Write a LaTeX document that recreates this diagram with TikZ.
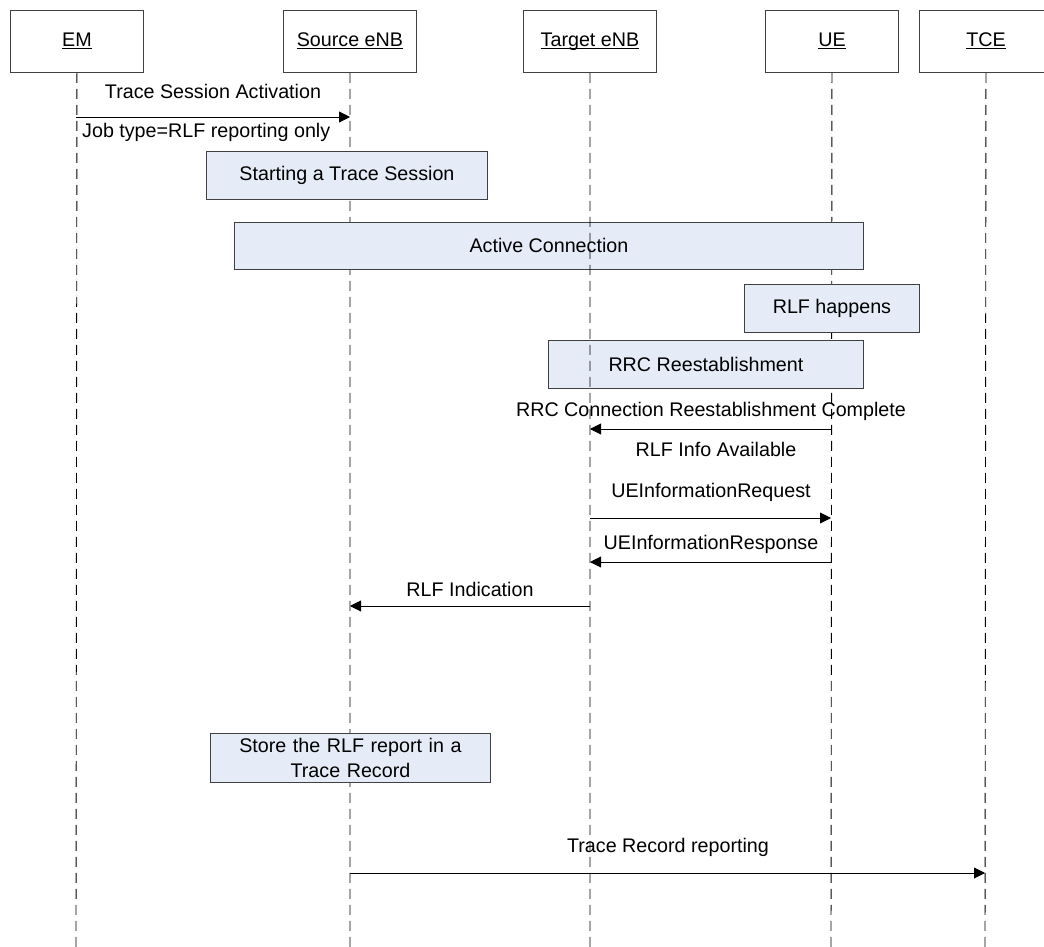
\documentclass[tikz,border=0pt]{standalone}
\usepackage{fontspec}
\setmainfont{Liberation Sans}
\usetikzlibrary{arrows.meta}
\definecolor{boxfill}{HTML}{E6ECF7}
\definecolor{linegray}{HTML}{404040}
\newcommand{\hdr}[1]{\underline{\smash{#1}}}
\begin{document}
\begin{tikzpicture}[x=1pt,y=-1pt,
  every node/.style={font=\fontsize{19.7}{24.5}\selectfont},
  actor/.style={draw=linegray,line width=0.9pt,fill=white,minimum width=133pt,minimum height=62pt,anchor=north west,inner sep=0pt,text height=14pt,text depth=4pt},
  actbox/.style={draw=linegray,line width=0.9pt,fill=boxfill,anchor=north west,inner sep=0pt,align=center},
  life/.style={draw=black,line width=0.9pt,dash pattern=on 10pt off 6pt},
  msg/.style={draw=black,line width=0.9pt,-{Triangle[length=11pt,width=11pt]}},
  lbl/.style={inner sep=0pt}]
\useasboundingbox (0,0) rectangle (1044,947);
% lifelines first
\coordinate (emb) at (76,947);
\coordinate (srcb) at (350,947);
\coordinate (tgtb) at (590,947);
\coordinate (ueb) at (831,947);
\coordinate (tceb) at (985,947);
\node[actor] (em) at (10,10) {\hdr{EM}};
\node[actor] (src) at (283,10) {\hdr{Source eNB}};
\node[actor] (tgt) at (523,10) {\hdr{Target eNB}};
\node[actor] (ue) at (765,10) {\hdr{UE}};
\node[actor] (tce) at (919,10) {\hdr{TCE}};
\draw[life] (em.south) -- (emb);
\draw[life] (src.south) -- (srcb);
\draw[life] (ue.south) -- (ueb);
\draw[life] (tce.south) -- (tceb);
% boxes
\node[actbox,minimum width=281pt,minimum height=48pt] (start) at (206,151) {Starting a Trace Session};
\node[actbox,minimum width=629pt,minimum height=47pt] (active) at (234,222) {Active Connection};
\node[actbox,minimum width=175pt,minimum height=48pt] (rlf) at (744,284) {RLF happens};
\node[actbox,minimum width=315pt,minimum height=48pt] (rrc) at (548,340) {RRC Reestablishment};
\node[actbox,minimum width=280pt,minimum height=49pt,text width=270pt] (store) at (210,733) {Store the RLF report in a\\Trace Record};
% target lifeline drawn over the boxes
\draw[life] (tgt.south) -- (tgtb);
% messages
\coordinate (m1a) at (76,117); \coordinate (m1b) at (350,117);
\draw[msg] (m1a) -- (m1b);
\node[lbl] (m1t) at (213,91) {Trace Session Activation};
\node[lbl,anchor=west] (m1u) at (82,132) {Job type=RLF reporting only};
\coordinate (m2a) at (831,429); \coordinate (m2b) at (590,429);
\draw[msg] (m2a) -- (m2b);
\node[lbl] (m2t) at (711,411) {RRC Connection Reestablishment Complete};
\node[lbl] (m2u) at (716,449) {RLF Info Available};
\coordinate (m3a) at (590,518); \coordinate (m3b) at (831,518);
\draw[msg] (m3a) -- (m3b);
\node[lbl] (m3t) at (711,492) {UEInformationRequest};
\coordinate (m4a) at (831,562); \coordinate (m4b) at (590,562);
\draw[msg] (m4a) -- (m4b);
\node[lbl] (m4t) at (711,544) {UEInformationResponse};
\coordinate (m5a) at (590,606); \coordinate (m5b) at (350,606);
\draw[msg] (m5a) -- (m5b);
\node[lbl] (m5t) at (470,589) {RLF Indication};
\coordinate (m6a) at (350,873); \coordinate (m6b) at (985,873);
\draw[msg] (m6a) -- (m6b);
\node[lbl] (m6t) at (668,847) {Trace Record reporting};
\end{tikzpicture}
\end{document}
